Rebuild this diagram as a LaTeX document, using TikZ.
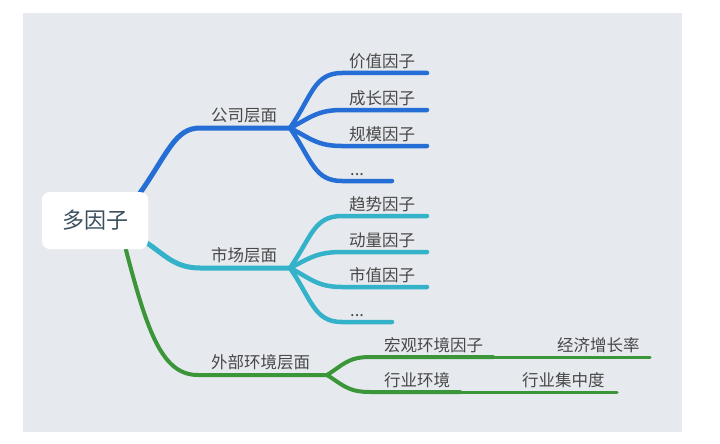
\documentclass[tikz,border=0pt]{standalone}
\usepackage{fontspec}
\newfontfamily\cjk{Noto Sans CJK SC}
\usetikzlibrary{calc}
\definecolor{bgcol}{RGB}{230,233,237}
\definecolor{companycol}{RGB}{36,110,214}
\definecolor{marketcol}{RGB}{52,178,202}
\definecolor{externalcol}{RGB}{58,150,56}
\definecolor{labeltext}{RGB}{72,72,72}
\definecolor{roottext}{RGB}{58,78,92}

\begin{document}
\begin{tikzpicture}[x=1pt,y=-1pt,
			root node/.style={fill=white,rounded corners=8pt,minimum width=106pt,minimum height=57pt,inner sep=0pt,font=\cjk\fontsize{22}{26}\selectfont,text=roottext},
			label node/.style={anchor=base west,inner sep=0pt,font=\cjk\fontsize{16.5}{20}\selectfont,text=labeltext},
			main edge/.style={line width=5pt,line cap=round},
			sub edge/.style={line width=4.5pt,line cap=round},
			far edge/.style={line width=3pt,line cap=round}
			]
			
			\useasboundingbox (0,0) rectangle (720,444);
			\fill[bgcol] (23,13) rectangle (682,432);
			
			\node[root node] (root) at (95,220.5) {多因子};
			
			\coordinate (company start) at (140,193);
			\coordinate (company bend) at (200,128);
			\coordinate (company hub) at (290,128);
			\coordinate (market start) at (147,243);
			\coordinate (market bend) at (200,268);
			\coordinate (market hub) at (290,268);
			\coordinate (external start) at (126,250);
			\coordinate (external bend) at (198,375);
			\coordinate (external hub) at (327,375);
			
			\draw[main edge,companycol] (company start) .. controls +(28,-40) and +(-25,0) .. (company bend) -- (company hub);
			\draw[main edge,marketcol] (market start) .. controls +(18,12) and +(-25,0) .. (market bend) -- (market hub);
			\draw[line width=4pt,line cap=round,externalcol] (external start) .. controls +(22,85) and +(-35,0) .. (external bend) -- (external hub);
			\node[root node] at (root) {多因子};
			
			\node[label node] (company) at (211,121) {公司层面};
			\node[label node] (market) at (211,261) {市场层面};
			\node[label node] (external) at (211,368) {外部环境层面};
			
			% company
			\coordinate (value line) at (342,73);   \coordinate (value end) at (427,73);
			\coordinate (growth line) at (342,110); \coordinate (growth end) at (427,110);
			\coordinate (size line) at (342,146);   \coordinate (size end) at (427,146);
			\coordinate (cmore line) at (342,181);  \coordinate (cmore end) at (392,181);
			\draw[sub edge,companycol] (company hub) .. controls +(22,-32) and +(-28,0) .. (value line) -- (value end);
			\draw[sub edge,companycol] (company hub) .. controls +(20,-10) and +(-25,0) .. (growth line) -- (growth end);
			\draw[sub edge,companycol] (company hub) .. controls +(20,10) and +(-25,0) .. (size line) -- (size end);
			\draw[sub edge,companycol] (company hub) .. controls +(22,32) and +(-28,0) .. (cmore line) -- (cmore end);
			\node[label node] (value) at (349,67) {价值因子};
			\node[label node] (growth) at (349,104) {成长因子};
			\node[label node] (size) at (349,140) {规模因子};
			\node[label node] (cmore) at (350,175) {...};
			
			% market
			\coordinate (trend line) at (342,216);    \coordinate (trend end) at (427,216);
			\coordinate (momentum line) at (342,252); \coordinate (momentum end) at (427,252);
			\coordinate (cap line) at (342,287);      \coordinate (cap end) at (427,287);
			\coordinate (mmore line) at (342,322);    \coordinate (mmore end) at (392,322);
			\draw[sub edge,marketcol] (market hub) .. controls +(22,-32) and +(-28,0) .. (trend line) -- (trend end);
			\draw[sub edge,marketcol] (market hub) .. controls +(20,-10) and +(-25,0) .. (momentum line) -- (momentum end);
			\draw[sub edge,marketcol] (market hub) .. controls +(20,10) and +(-25,0) .. (cap line) -- (cap end);
			\draw[sub edge,marketcol] (market hub) .. controls +(22,32) and +(-28,0) .. (mmore line) -- (mmore end);
			\node[label node] (trend) at (349,210) {趋势因子};
			\node[label node] (momentum) at (349,246) {动量因子};
			\node[label node] (cap) at (349,281) {市值因子};
			\node[label node] (mmore) at (350,316) {...};
			
			% external
			\coordinate (macro line) at (370,357);    \coordinate (macro end) at (493,357);
			\coordinate (industry line) at (370,392); \coordinate (industry end) at (460,392);
			\coordinate (economy end) at (650,357);
			\coordinate (concentration end) at (617,392);
			\draw[line width=4pt,line cap=round,externalcol] (external hub) .. controls +(16,-10) and +(-22,0) .. (macro line) -- (macro end);
			\draw[line width=4pt,line cap=round,externalcol] (external hub) .. controls +(16,10) and +(-22,0) .. (industry line) -- (industry end);
			\draw[far edge,externalcol] (macro end) -- (economy end);
			\draw[far edge,externalcol] (industry end) -- (concentration end);
			\node[label node] (macro) at (384,351) {宏观环境因子};
			\node[label node] (industry) at (384,386) {行业环境};
			\node[label node] (economy) at (557,351) {经济增长率};
			\node[label node] (concentration) at (522,386) {行业集中度};
		\end{tikzpicture}
\end{document}
